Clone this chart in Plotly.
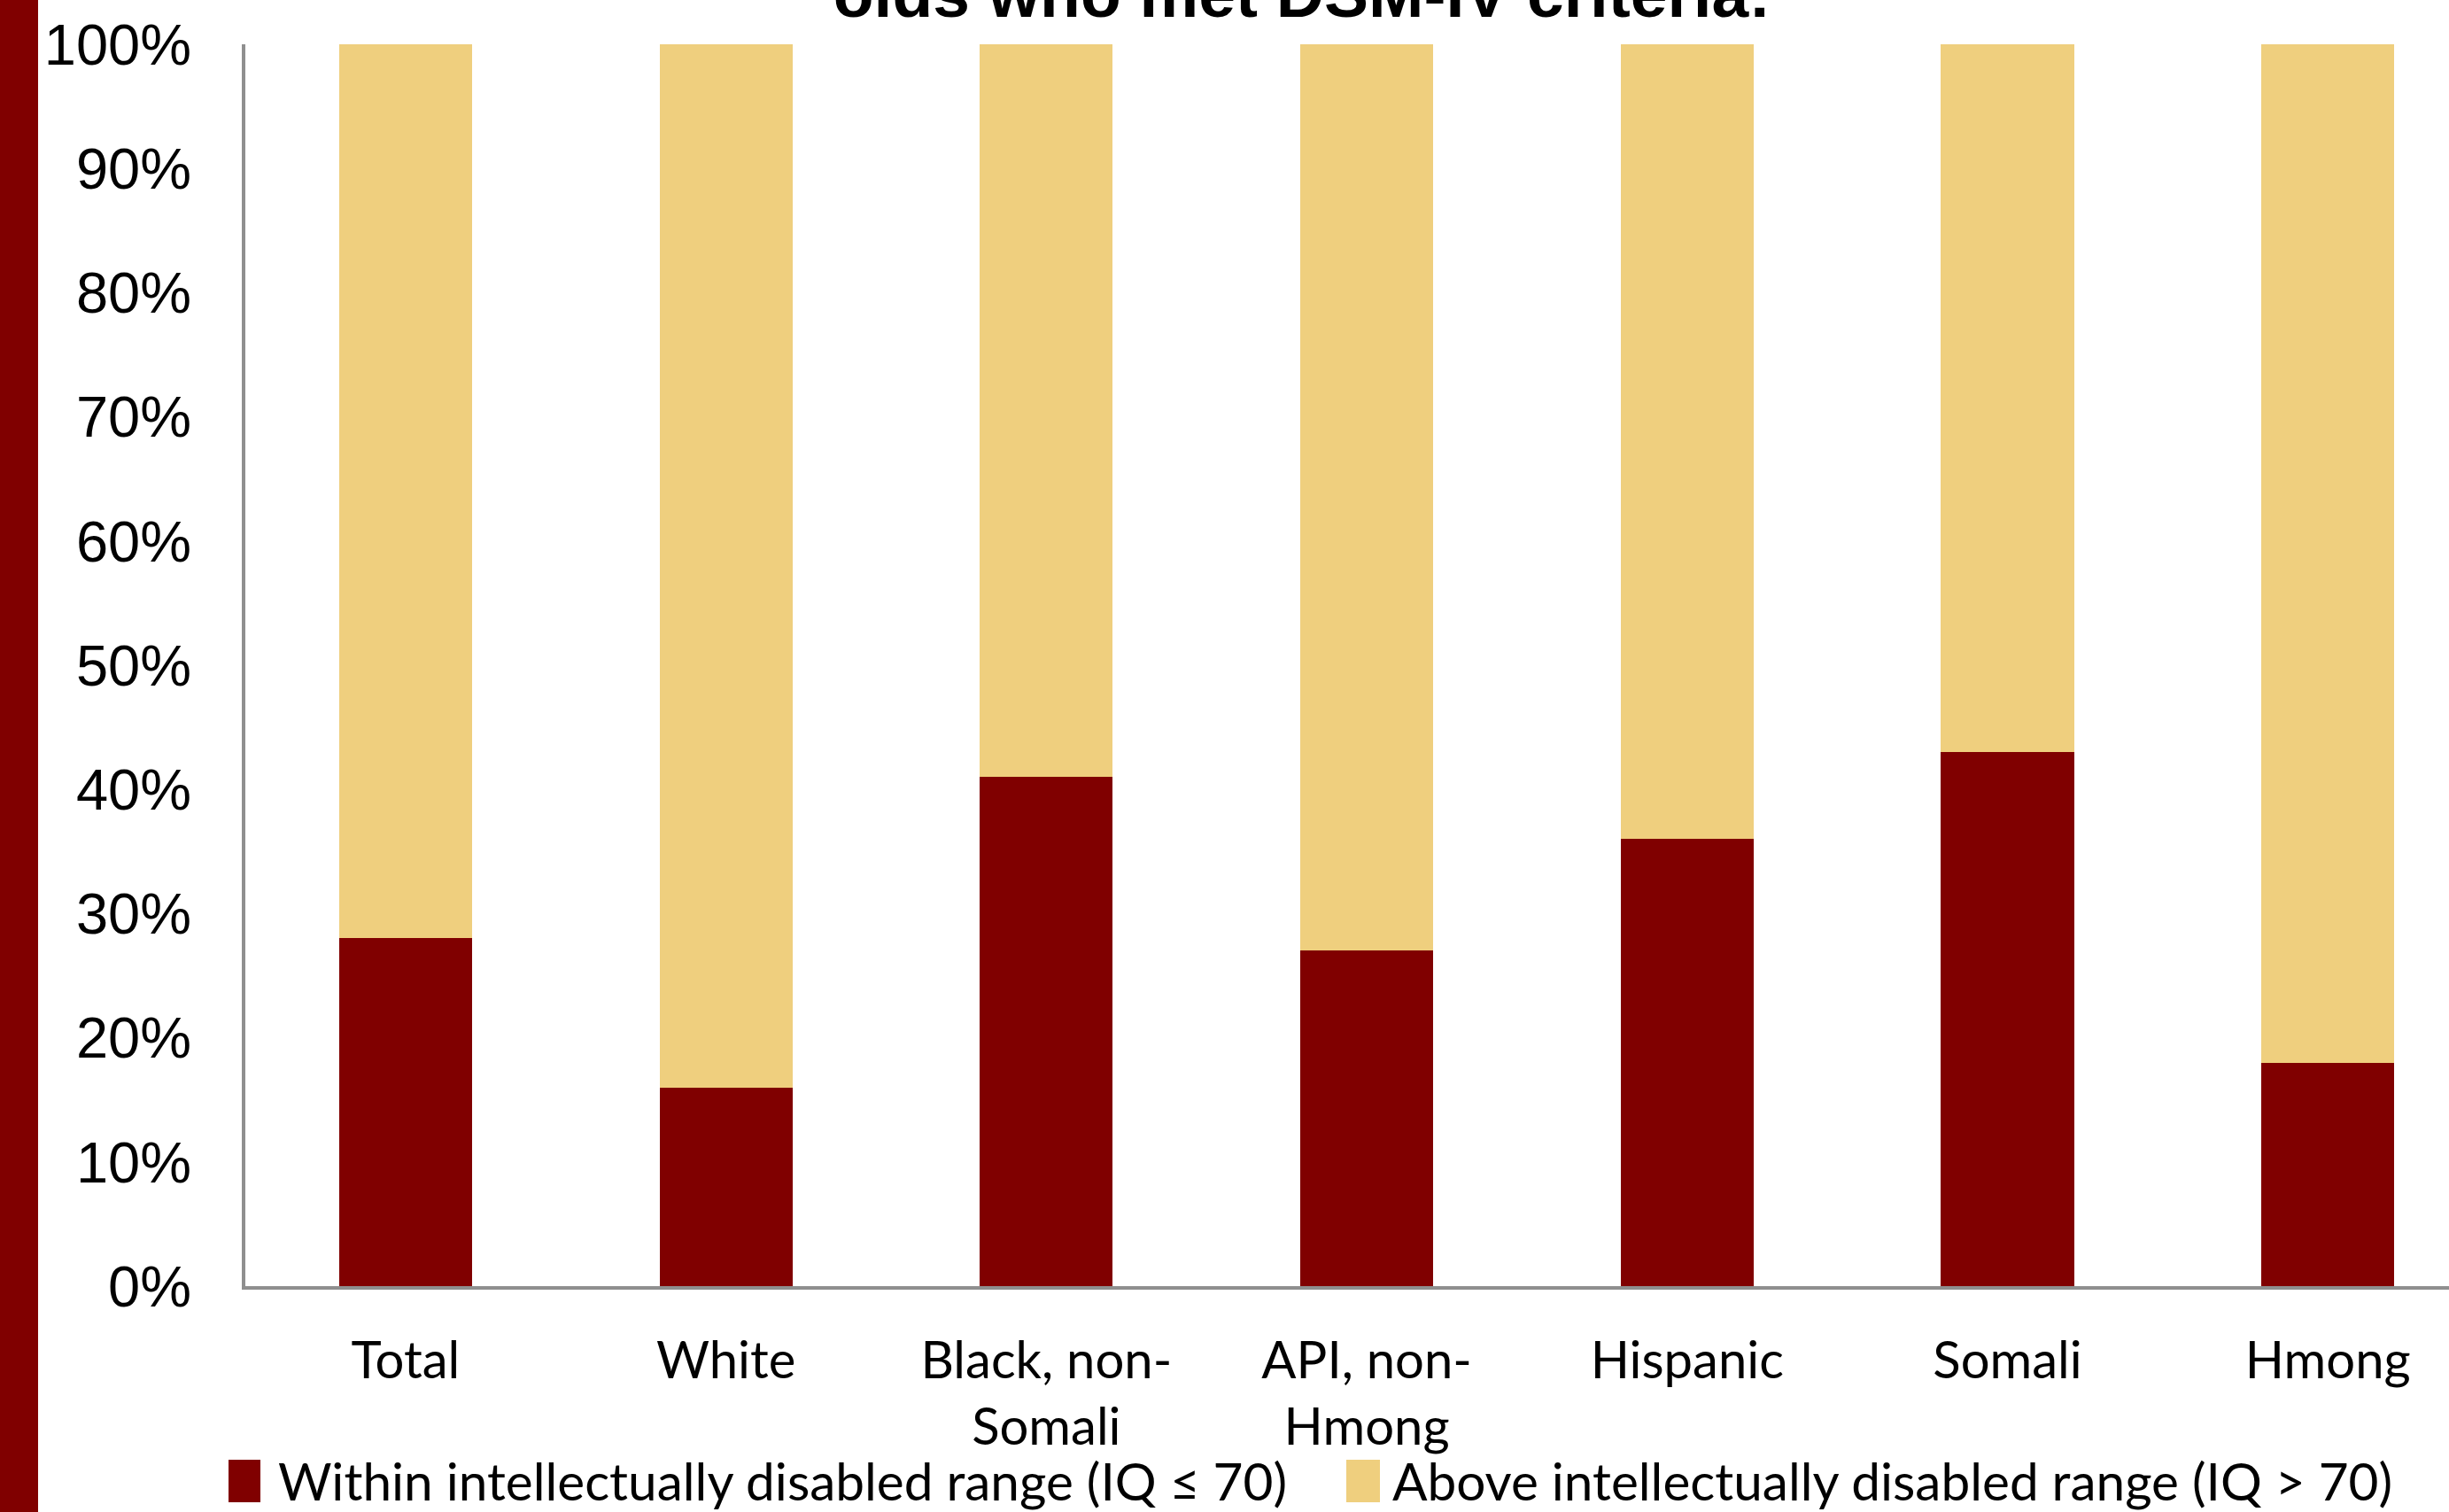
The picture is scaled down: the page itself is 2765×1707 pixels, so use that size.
import plotly.graph_objects as go

# Groups and the share of children in each IQ band (percent)
categories = ["Total", "White", "Black, non-Somali", "API, non-Hmong", "Hispanic", "Somali", "Hmong"]
tick_labels = ["Total", "White", "Black, non-<br>Somali", "API, non-<br>Hmong", "Hispanic", "Somali", "Hmong"]
within_id = [28, 16, 41, 27, 36, 43, 18]
above_id = [100 - v for v in within_id]
y_ticks = [0, 10, 20, 30, 40, 50, 60, 70, 80, 90, 100]

series_names = ["Within intellectually disabled range (IQ \u2264 70)",
                "Above intellectually disabled range (IQ > 70)"]
title_text = "olds who met DSM-IV criteria:"

DARK_RED = "#800000"
GOLD = "#EFCF7E"
W, H = 2765, 1707
L, R, T, B = 277, 0, 50, 255
PW, PH = W - L - R, H - T - B

def px_x(px):
    return (px - L) / PW

def px_y(py):
    return (H - B - py) / PH

label_font = "Lato, Roboto, sans-serif"

fig = go.Figure()
fig.add_trace(go.Bar(x=categories, y=within_id, name=series_names[0],
                     marker=dict(color=DARK_RED, line=dict(width=0)), width=0.415))
fig.add_trace(go.Bar(x=categories, y=above_id, name=series_names[1],
                     marker=dict(color=GOLD, line=dict(width=0)), width=0.415))

shapes = [
    # dark red band on the left edge of the slide
    dict(type="rect", xref="paper", yref="paper", x0=px_x(-5), x1=px_x(43),
         y0=px_y(H + 5), y1=px_y(-5), fillcolor=DARK_RED, line=dict(width=0), layer="above"),
    # legend keys
    dict(type="rect", xref="paper", yref="paper", x0=px_x(258), x1=px_x(294),
         y0=px_y(1696), y1=px_y(1648), fillcolor=DARK_RED, line=dict(width=0)),
    dict(type="rect", xref="paper", yref="paper", x0=px_x(1520), x1=px_x(1558),
         y0=px_y(1696), y1=px_y(1648), fillcolor=GOLD, line=dict(width=0)),
]

annotations = [
    dict(text=series_names[0], xref="paper", yref="paper", x=px_x(312), y=px_y(1671),
         xanchor="left", yanchor="middle", showarrow=False,
         font=dict(family=label_font, size=58.5, color="#000000")),
    dict(text=series_names[1], xref="paper", yref="paper", x=px_x(1570), y=px_y(1671),
         xanchor="left", yanchor="middle", showarrow=False,
         font=dict(family=label_font, size=58.5, color="#000000")),
]

fig.update_layout(
    width=W, height=H,
    margin=dict(l=L, r=R, t=T, b=B, pad=0),
    barmode="stack",
    paper_bgcolor="white", plot_bgcolor="white",
    showlegend=False,
    title=dict(text="<b>" + title_text + "</b>", x=1470 / W, xanchor="center",
               xref="container", yref="container", y=1 - 19 / H, yanchor="bottom",
               font=dict(family="Liberation Sans, Arial, sans-serif", size=75, color="#000000")),
    shapes=shapes,
    annotations=annotations,
    xaxis=dict(
        range=[-0.5, 6.378],
        tickmode="array", tickvals=categories, ticktext=tick_labels,
        ticks="", showgrid=False, zeroline=False,
        showline=True, linecolor="#8f8f8f", linewidth=4,
        tickfont=dict(family=label_font, size=58, color="#000000"),
        ticklabelstandoff=30,
    ),
    yaxis=dict(
        range=[0, 100],
        tickmode="array", tickvals=y_ticks, ticktext=[f"{v}%" for v in y_ticks],
        ticks="", showgrid=False, zeroline=False,
        showline=True, linecolor="#8f8f8f", linewidth=4,
        tickfont=dict(family="Liberation Sans, Arial, sans-serif", size=65, color="#000000"),
        ticklabelstandoff=44,
    ),
)

fig.write_html("out.html")
